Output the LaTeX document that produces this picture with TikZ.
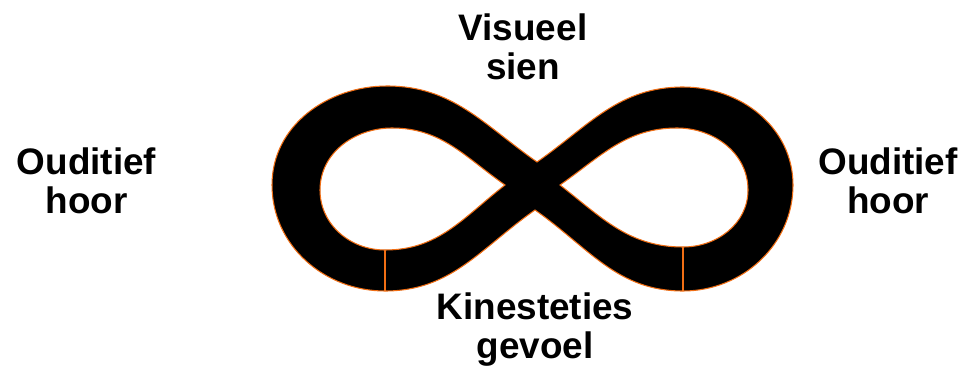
\documentclass[tikz,border=0pt]{standalone}
\usepackage{fontspec}
\setmainfont{Liberation Sans}
\definecolor{rim}{RGB}{240,110,20}

\begin{document}
\begin{tikzpicture}[
	x=0.02cm, y=0.02cm,
	% --- Styles ---
	band/.style={
		fill=black, draw=rim, line width=0.6pt, even odd rule
	},
	divider/.style={
		draw=rim, line width=0.6pt
	},
	sense/.style={
		anchor=north, inner sep=0pt, align=center,
		font=\bfseries\fontsize{21}{22.7}\selectfont
	}
	]
	\useasboundingbox (0,0) rectangle (966,369);
	
	% --- 1. Key points of the loop ---
	\coordinate (notch_top) at (537,207);
	\coordinate (notch_bot) at (535,159);
	\coordinate (left_out_bot) at (385,78);
	\coordinate (right_out_bot) at (683,78);
	\coordinate (left_in_bot) at (385,119);
	\coordinate (right_in_bot) at (683,122);
	
	% --- 2. The band (outer rim + two holes) ---
	\path [band]
	(notch_top) to[out=145, in=0] (387,283) to[out=180, in=90] (272,184)
	to[out=-90, in=180] (left_out_bot) to[out=0, in=-145] (notch_bot)
	to[out=-35, in=180] (right_out_bot) to[out=0, in=-90] (793,184)
	to[out=90, in=0] (683,282) to[out=180, in=35] (notch_top) -- cycle
	% left hole
	(505,184) to[out=145, in=0] (392,241) to[out=180, in=90] (320,179)
	to[out=-90, in=180] (left_in_bot) to[out=0, in=-142] (505,184) -- cycle
	% right hole
	(560,184) to[out=35, in=180] (677,241) to[out=0, in=90] (748,179)
	to[out=-90, in=0] (right_in_bot) to[out=180, in=-38] (560,184) -- cycle;
	
	% --- 3. Small cuts at the bottom ---
	\draw [divider] (left_in_bot) -- (left_out_bot);
	\draw [divider] (right_in_bot) -- (right_out_bot);
	
	% --- 4. Labels ---
	\node [sense] (visual) at (523,356) {Visueel\\sien};
	\node [sense] (audio_left) at (86.5,222) {Ouditief\\hoor};
	\node [sense] (audio_right) at (888,222) {Ouditief\\hoor};
	\node [sense] (kinesthetic) at (535,77) {Kinesteties\\gevoel};
	
\end{tikzpicture}
\end{document}
